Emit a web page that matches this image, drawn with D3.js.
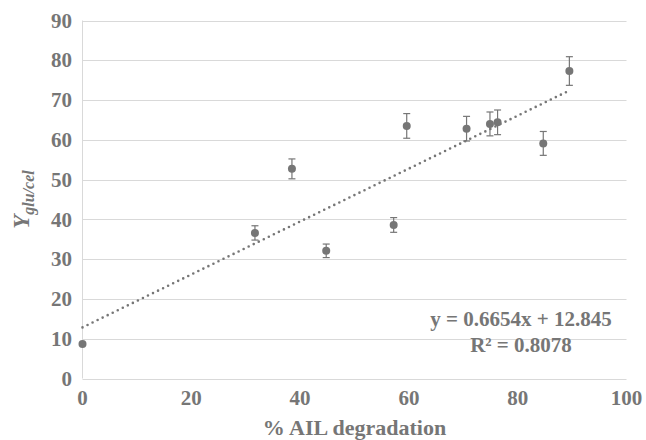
<!DOCTYPE html>
<html>
<head>
<meta charset="utf-8">
<script src="https://cdn.jsdelivr.net/npm/d3@7.9.0/dist/d3.min.js"></script>
<style>
  body { margin: 0; background: #fff; }
  text { font-family: "Liberation Serif", "Times New Roman", serif; font-weight: bold; fill: #767676; }
</style>
</head>
<body>
<svg id="chart" width="646" height="440"></svg>
<script>
// % AIL degradation vs Y glu/cel, with error bars
const degradation = [0, 31.7, 38.5, 44.8, 57.2, 59.6, 70.6, 74.9, 76.3, 84.7, 89.5];
const yieldVals = [8.7, 36.6, 52.7, 32.1, 38.6, 63.5, 62.8, 64.0, 64.4, 59.1, 77.3];
const errors = [0, 1.8, 2.5, 1.7, 1.85, 3.1, 3.1, 3.0, 3.1, 3.0, 3.6];
const xTicks = [0, 20, 40, 60, 80, 100];
const yTicks = [0, 10, 20, 30, 40, 50, 60, 70, 80, 90];
const slope = 0.6654;
const intercept = 12.845;
const rSquared = 0.8078;

const points = degradation.map((x, i) => ({ x: x, y: yieldVals[i], err: errors[i] }));

const svg = d3.select('#chart');
const x = d3.scaleLinear().domain([0, 100]).range([82.5, 626.5]);
const y = d3.scaleLinear().domain([0, 90]).range([378.5, 20.5]);

const grey = '#767676';

// gridlines
svg.append('g')
  .selectAll('line')
  .data(yTicks)
  .join('line')
  .attr('x1', x(0)).attr('x2', x(100))
  .attr('y1', (d) => Math.round(y(d)) + 0.5).attr('y2', (d) => Math.round(y(d)) + 0.5)
  .attr('stroke', '#d9d9d9').attr('stroke-width', 1);

// left axis line
svg.append('line')
  .attr('x1', x(0)).attr('x2', x(0))
  .attr('y1', y(0)).attr('y2', y(90))
  .attr('stroke', '#d9d9d9');

// y tick labels
svg.append('g')
  .selectAll('text')
  .data(yTicks)
  .join('text')
  .attr('x', 72)
  .attr('y', (d) => y(d))
  .attr('dy', '0.34em')
  .attr('text-anchor', 'end')
  .attr('font-size', 21)
  .text((d) => d);

// x tick labels
svg.append('g')
  .selectAll('text')
  .data(xTicks)
  .join('text')
  .attr('x', (d) => x(d))
  .attr('y', 405)
  .attr('text-anchor', 'middle')
  .attr('font-size', 21)
  .text((d) => d);

// axis titles
svg.append('text')
  .attr('x', (x(0) + x(100)) / 2)
  .attr('y', 435)
  .attr('text-anchor', 'middle')
  .attr('font-size', 22)
  .text('% AIL degradation');

let yTitle = svg.append('text')
  .attr('transform', `translate(29,${(y(0) + y(90)) / 2}) rotate(-90)`)
  .attr('text-anchor', 'middle')
  .attr('font-size', 23)
  .attr('font-style', 'italic');
yTitle.append('tspan').text('Y');
yTitle.append('tspan').attr('font-size', 16).attr('dy', 5).text('glu/cel');

// trendline
const xMax = d3.max(degradation);
svg.append('line')
  .attr('x1', x(0)).attr('y1', y(intercept))
  .attr('x2', x(xMax)).attr('y2', y(slope * xMax + intercept))
  .attr('stroke', grey)
  .attr('stroke-width', 2.6)
  .attr('stroke-linecap', 'round')
  .attr('stroke-dasharray', '0,5.6');

// error bars
const bars = svg.append('g')
  .selectAll('g')
  .data(points.filter((d) => d.err > 0))
  .join('g')
  .attr('stroke', grey)
  .attr('stroke-width', 1.2);

bars.append('line')
  .attr('x1', (d) => x(d.x)).attr('x2', (d) => x(d.x))
  .attr('y1', (d) => y(d.y - d.err)).attr('y2', (d) => y(d.y + d.err));
bars.append('line')
  .attr('x1', (d) => x(d.x) - 3.5).attr('x2', (d) => x(d.x) + 3.5)
  .attr('y1', (d) => y(d.y + d.err)).attr('y2', (d) => y(d.y + d.err));
bars.append('line')
  .attr('x1', (d) => x(d.x) - 3.5).attr('x2', (d) => x(d.x) + 3.5)
  .attr('y1', (d) => y(d.y - d.err)).attr('y2', (d) => y(d.y - d.err));

// markers
svg.append('g')
  .selectAll('circle')
  .data(points)
  .join('circle')
  .attr('cx', (d) => x(d.x))
  .attr('cy', (d) => y(d.y))
  .attr('r', 4)
  .attr('fill', grey);

// equation
svg.append('text')
  .attr('x', 521)
  .attr('y', 326)
  .attr('text-anchor', 'middle')
  .attr('font-size', 21)
  .text(`y = ${slope}x + ${intercept}`);
svg.append('text')
  .attr('x', 521)
  .attr('y', 352)
  .attr('text-anchor', 'middle')
  .attr('font-size', 21)
  .text(`R² = ${rSquared}`);
</script>
</body>
</html>
